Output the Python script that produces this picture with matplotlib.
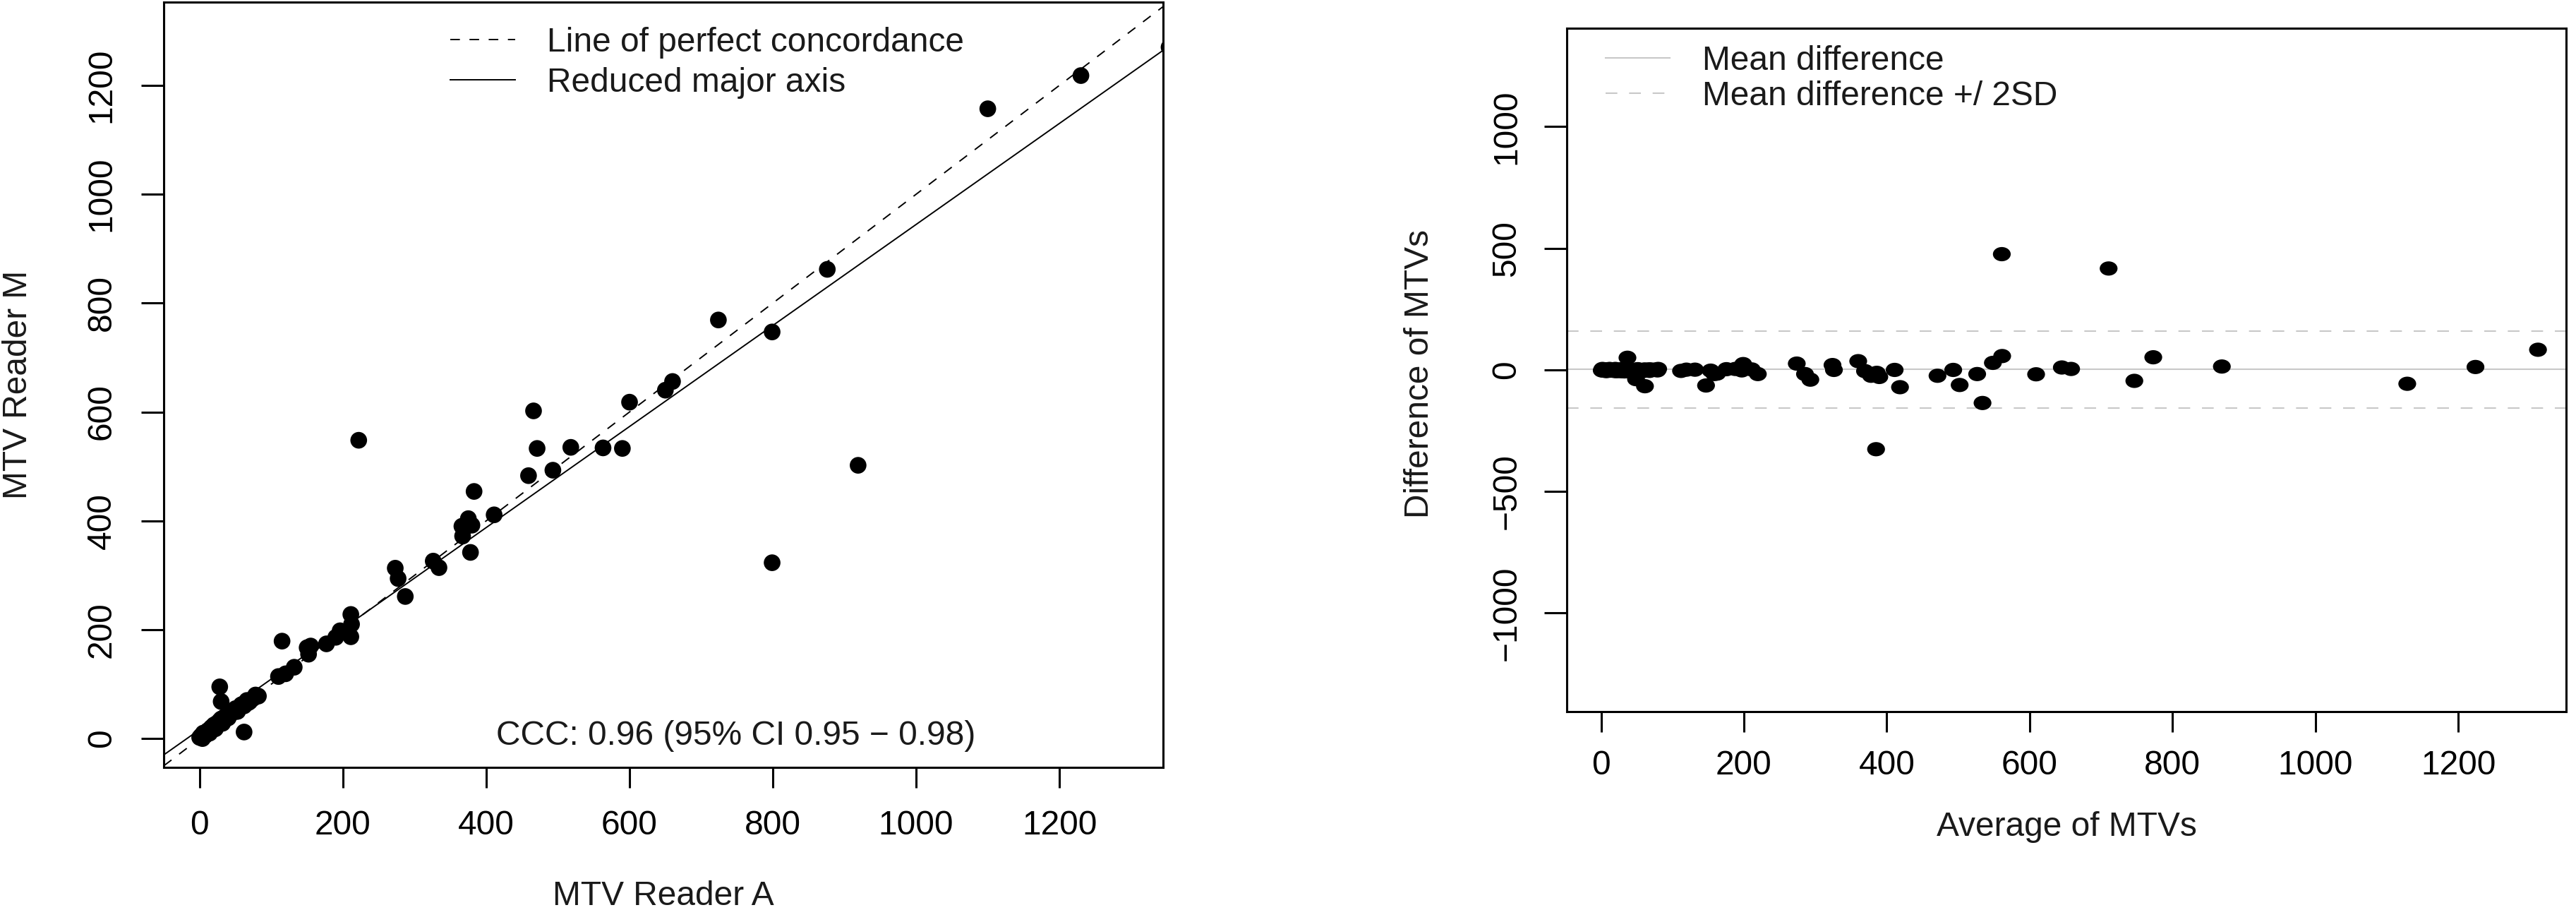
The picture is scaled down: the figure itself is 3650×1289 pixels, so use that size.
import matplotlib
matplotlib.use("Agg")
import matplotlib.pyplot as plt
import numpy as np
from matplotlib.path import Path
from matplotlib.transforms import Affine2D

# MTV read by reader A and reader M (one pair per lesion), estimated from the plot
reader_a = [
    1353, 1230, 1100, 876, 799, 724, 919, 660, 650, 600,
    799, 590, 563, 466, 518, 471, 493, 459, 383, 411,
    375, 222, 366, 367, 378, 380, 326, 334, 273, 277,
    287, 211, 212, 211, 196, 190, 177, 150, 155, 115,
    152, 120, 132, 110, 82, 28, 62, 30,
    0, 2, 4, 5, 8, 10, 12, 14, 16, 18,
    20, 22, 24, 26, 28, 30, 32, 35, 38, 40,
    42, 45, 48, 50, 53, 56, 58, 62, 66, 70,
    75, 3, 6, 9, 11, 15, 19, 23, 27, 34,
    44, 52, 60, 68, 78,
]
reader_m = [
    1270, 1218, 1157, 862, 747, 769, 502, 656, 640, 618,
    323, 533, 534, 602, 535, 533, 493, 483, 454, 411,
    404, 548, 390, 372, 342, 392, 326, 314, 313, 294,
    261, 228, 210, 187, 198, 186, 174, 167, 170, 179,
    155, 119, 131, 114, 78, 95, 12, 68,
    2, 5, 0, 10, 6, 12, 15, 10, 20, 22,
    25, 18, 28, 30, 33, 36, 28, 40, 42, 38,
    47, 48, 52, 55, 50, 58, 62, 60, 70, 68,
    74, 1, 8, 7, 14, 13, 22, 21, 31, 33,
    46, 50, 63, 66, 80,
]

# reduced major axis as drawn in the figure
rma_icept = 16.5
rma_slope = 0.928

ccc_text = "CCC: 0.96 (95% CI 0.95 \u2212 0.98)"
scatter_ticks = [0, 200, 400, 600, 800, 1000, 1200]
ba_xticks = [0, 200, 400, 600, 800, 1000, 1200]
ba_yticks = [-1000, -500, 0, 500, 1000]

plt.rcParams["font.family"] = ["Liberation Sans", "DejaVu Sans"]
plt.rcParams["font.size"] = 34.5
plt.rcParams["text.color"] = "#1a1a1a"
plt.rcParams["axes.linewidth"] = 2.2
plt.rcParams["xtick.major.width"] = 2.2
plt.rcParams["ytick.major.width"] = 2.2
plt.rcParams["xtick.major.size"] = 21
plt.rcParams["ytick.major.size"] = 23

a = np.array(reader_a, dtype=float)
m = np.array(reader_m, dtype=float)

avg = (a + m) / 2
diff = a - m
mean_diff = diff.mean()
sd_diff = diff.std(ddof=1)

fig = plt.figure(figsize=(36.5, 12.89), dpi=100)
ax1 = fig.add_axes([0.0636, 0.1567, 0.388, 0.841])
ax2 = fig.add_axes([0.6082, 0.218, 0.388, 0.751])

# --- concordance plot ---
ax1.scatter(a, m, s=290, c="black", edgecolors="none", zorder=3)
ax1.axline((0, 0), slope=1, color="black", lw=1.4, dashes=(7, 7),
           label="Line of perfect concordance")
ax1.axline((0, rma_icept), slope=rma_slope, color="black", lw=1.4,
           label="Reduced major axis")
ax1.set_xlim(-50, 1345)
ax1.set_ylim(-53, 1353)
ax1.set_xticks(scatter_ticks)
ax1.set_yticks(scatter_ticks)
ax1.tick_params(axis="x", pad=22)
ax1.tick_params(axis="y", pad=24)
for lab in ax1.get_yticklabels():
    lab.set_rotation(90)
    lab.set_va("center")
ax1.text(0.572, 0.041, ccc_text, transform=ax1.transAxes, ha="center", va="center")
ax1.legend(loc="upper left", bbox_to_anchor=(0.27, 0.99), frameon=False,
           handlelength=1.9, handletextpad=0.95, labelspacing=0.25, borderpad=0)
fig.text(0.2575, (1289 - 1270) / 1289, "MTV Reader A", ha="center", va="center")
fig.text(26 / 3650, (1289 - 545) / 1289, "MTV Reader M", ha="center", va="center",
         rotation=90)

# --- Bland-Altman plot ---
ellipse = Path.unit_circle().transformed(Affine2D().scale(1.25, 1.0))
ax2.scatter(avg, diff, s=330, c="black", marker=ellipse, edgecolors="none", zorder=3)
ax2.axhline(mean_diff, color="#c8c8c8", lw=1.5, label="Mean difference")
ax2.axhline(mean_diff + 2 * sd_diff, color="#c8c8c8", lw=1.5, dashes=(8, 8),
            label="Mean difference +/ 2SD")
ax2.axhline(mean_diff - 2 * sd_diff, color="#c8c8c8", lw=1.5, dashes=(8, 8))
ax2.set_xlim(-48, 1351)
ax2.set_ylim(-1405, 1405)
ax2.set_xticks(ba_xticks)
ax2.set_yticks(ba_yticks)
ax2.tick_params(axis="x", pad=18)
ax2.tick_params(axis="y", pad=22)
for lab in ax2.get_yticklabels():
    lab.set_rotation(90)
    lab.set_va("center")
ax2.legend(loc="upper left", bbox_to_anchor=(0.022, 1.0), frameon=False,
           handlelength=1.9, handletextpad=0.95, labelspacing=0.1, borderpad=0)
fig.text(2928 / 3650, (1289 - 1172) / 1289, "Average of MTVs", ha="center", va="center")
fig.text(2012 / 3650, (1289 - 530) / 1289, "Difference of MTVs", ha="center",
         va="center", rotation=90)

fig.savefig("out.png", dpi=100)
plt.close(fig)
